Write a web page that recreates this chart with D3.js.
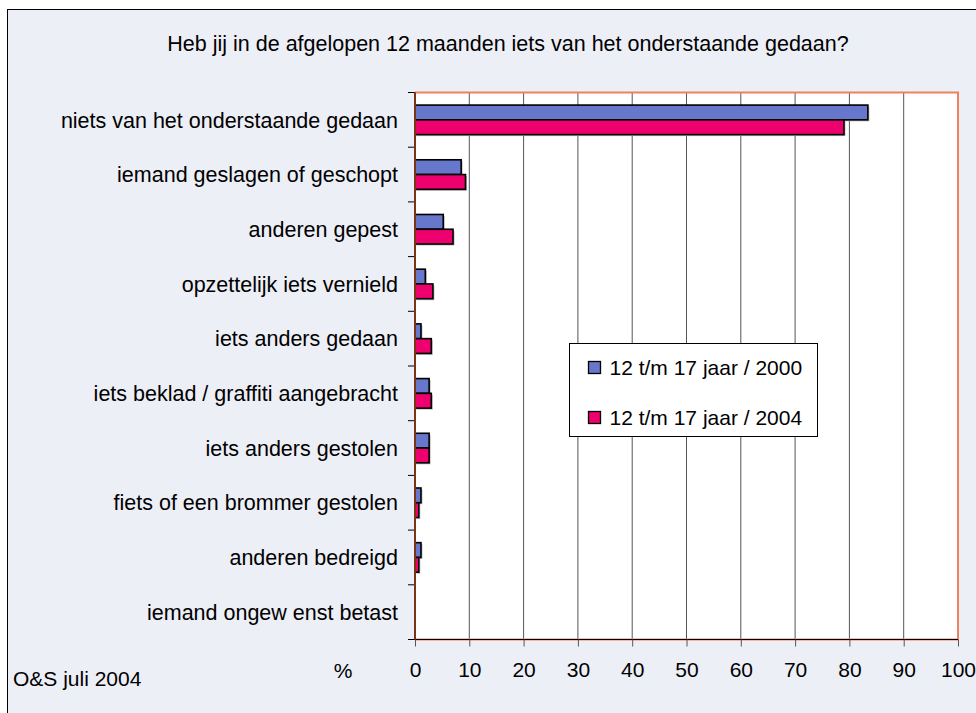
<!DOCTYPE html>
<html>
<head>
<meta charset="utf-8">
<script src="https://cdn.jsdelivr.net/npm/d3@7"></script>
<style>
  body { margin: 0; background: #fff; }
  text { font-family: "Liberation Sans", Arial, sans-serif; fill: #000; }
</style>
</head>
<body>
<script>
var WIDTH = 976;
var HEIGHT = 713;

// categories, top to bottom
var categories = [
  "niets van het onderstaande gedaan",
  "iemand geslagen of geschopt",
  "anderen gepest",
  "opzettelijk iets vernield",
  "iets anders gedaan",
  "iets beklad / graffiti aangebracht",
  "iets anders gestolen",
  "fiets of een brommer gestolen",
  "anderen bedreigd",
  "iemand ongew enst betast"
];
var seriesNames = ["12 t/m 17 jaar / 2000", "12 t/m 17 jaar / 2004"];
var values2000 = [83.4, 8.5, 5.2, 1.9, 1.1, 2.6, 2.6, 1.1, 1.1, 0];
var values2004 = [79.0, 9.3, 7.0, 3.3, 3.0, 3.0, 2.6, 0.7, 0.7, 0];
var xTicks = [0, 10, 20, 30, 40, 50, 60, 70, 80, 90, 100];
var colors = ["#6677CC", "#EE006E"];

var FONT = 21.5;

var svg = d3.select("body").append("svg")
  .attr("width", WIDTH)
  .attr("height", HEIGHT);

// outer frame (runs off the right and bottom edge)
svg.append("rect")
  .attr("x", 7.5).attr("y", 9.5)
  .attr("width", 1000).attr("height", 800)
  .attr("fill", "#EDEFF7")
  .attr("stroke", "#000").attr("stroke-width", 1);

var plot = {left: 415, right: 958, top: 92.5, bottom: 639.5};

var x = d3.scaleLinear().domain([0, 100]).range([plot.left, plot.right]);
var y = d3.scaleBand().domain(categories)
  .range([plot.top, plot.bottom])
  .paddingInner(0.46).paddingOuter(0.23);
var ySub = d3.scaleBand().domain([0, 1]).range([0, y.bandwidth()]);

// plot area
svg.append("rect")
  .attr("x", plot.left).attr("y", plot.top)
  .attr("width", plot.right - plot.left).attr("height", plot.bottom - plot.top)
  .attr("fill", "#fff");

// gridlines
svg.append("g").selectAll("line")
  .data(xTicks.slice(1, -1))
  .enter().append("line")
    .attr("x1", d => x(d)).attr("x2", d => x(d))
    .attr("y1", plot.top).attr("y2", plot.bottom)
    .attr("stroke", "#555").attr("stroke-width", 1);

// border of plot area: salmon top/right/bottom
svg.append("path")
  .attr("d", "M" + plot.left + "," + plot.top + "H" + plot.right + "V" + plot.bottom + "H" + plot.left)
  .attr("fill", "none").attr("stroke", "#F08060").attr("stroke-width", 2);

// bottom axis
var xAxis = d3.axisBottom(x).tickValues(xTicks).tickSize(7).tickPadding(16);
var gx = svg.append("g")
  .attr("transform", "translate(0," + plot.bottom + ")")
  .call(xAxis);
gx.select(".domain").attr("stroke", "#000").attr("stroke-width", 1).attr("d", "M" + (plot.left - 7) + ",0H" + plot.right);
gx.selectAll(".tick line").attr("stroke", "#555");
gx.selectAll("text")
  .style("font-size", "21px")
  .style("font-family", "'Liberation Sans', Arial, sans-serif")
  .attr("fill", "#000");

// left axis ticks between categories
var boundaries = d3.range(categories.length + 1).map(i => plot.top + i * y.step());
svg.append("g").selectAll("line")
  .data(boundaries)
  .enter().append("line")
    .attr("x1", plot.left - 7).attr("x2", plot.left)
    .attr("y1", d => d).attr("y2", d => d)
    .attr("stroke", "#000").attr("stroke-width", 1);

// category labels
svg.append("g").selectAll("text")
  .data(categories)
  .enter().append("text")
    .attr("x", 398)
    .attr("y", d => y(d) + y.bandwidth() / 2)
    .attr("dy", "0.36em")
    .attr("text-anchor", "end")
    .style("font-size", FONT + "px")
    .text(d => d);

// bars
var series = [values2000, values2004];
series.forEach((vals, s) => {
  var g = svg.append("g");
  var rows = categories.map((c, i) => ({cat: c, v: vals[i]})).filter(d => d.v > 0);
  // soft shadow
  g.selectAll("rect.shadow")
    .data(rows)
    .enter().append("rect")
      .attr("class", "shadow")
      .attr("x", x(0) + 1.5)
      .attr("y", d => y(d.cat) + ySub(s) + 1.5)
      .attr("width", d => x(d.v) - x(0))
      .attr("height", ySub.bandwidth())
      .attr("fill", "#bbb");
  g.selectAll("rect.bar")
    .data(rows)
    .enter().append("rect")
      .attr("class", "bar")
      .attr("x", x(0))
      .attr("y", d => y(d.cat) + ySub(s))
      .attr("width", d => x(d.v) - x(0))
      .attr("height", ySub.bandwidth())
      .attr("fill", colors[s])
      .attr("stroke", "#000").attr("stroke-width", 1.6);
});

// left axis line (brown)
svg.append("line")
  .attr("x1", plot.left).attr("x2", plot.left)
  .attr("y1", plot.top).attr("y2", plot.bottom)
  .attr("stroke", "#7A3418").attr("stroke-width", 2);

// title
svg.append("text")
  .attr("x", 508).attr("y", 51)
  .attr("text-anchor", "middle")
  .style("font-size", FONT + "px")
  .text("Heb jij in de afgelopen 12 maanden iets van het onderstaande gedaan?");

// % and source
svg.append("text")
  .attr("x", 343).attr("y", 678)
  .attr("text-anchor", "middle")
  .style("font-size", "21px")
  .text("%");
svg.append("text")
  .attr("x", 13).attr("y", 686)
  .style("font-size", "21px")
  .text("O&S juli 2004");

// legend
var legend = svg.append("g").attr("transform", "translate(569.5,343.5)");
legend.append("rect")
  .attr("width", 248).attr("height", 93)
  .attr("fill", "#fff").attr("stroke", "#000").attr("stroke-width", 1);
var items = legend.selectAll("g.item")
  .data(seriesNames)
  .enter().append("g")
    .attr("class", "item")
    .attr("transform", (d, i) => "translate(0," + (24 + i * 50) + ")");
items.append("rect")
  .attr("x", 19).attr("y", -6)
  .attr("width", 12).attr("height", 12)
  .attr("fill", (d, i) => colors[i])
  .attr("stroke", "#000").attr("stroke-width", 1.3);
items.append("text")
  .attr("x", 40).attr("y", 0)
  .attr("dy", "0.36em")
  .style("font-size", "21px")
  .text(d => d);
</script>
</body>
</html>
